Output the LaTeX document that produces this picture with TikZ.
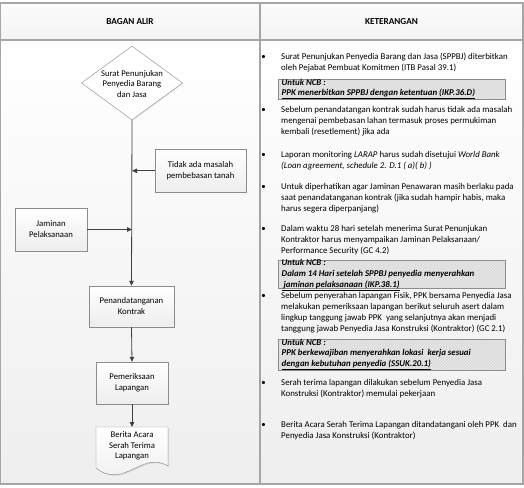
\documentclass[tikz,border=0pt]{standalone}
\usepackage{fontspec}
\setmainfont{Carlito}
\usetikzlibrary{arrows.meta,shapes.geometric,shadows,patterns}
\definecolor{frame}{HTML}{A6A6A6}
\definecolor{linec}{HTML}{404040}
\definecolor{boxb}{HTML}{8C8C8C}
\begin{document}
\begin{tikzpicture}[x=1pt,y=-1pt,
  txt/.style={font=\fontsize{8.85}{11}\selectfont, inner sep=0pt, align=left, anchor=base west},
  bul/.style={font=\fontsize{8.85}{11}\selectfont, inner sep=0pt, anchor=base},
  ncbtxt/.style={font=\fontsize{8.85}{10.6}\selectfont\bfseries\itshape, inner sep=0pt, align=left, anchor=base west},
  ncbbox/.style={draw=boxb, fill=gray!28},
  flowbox/.style={draw=boxb, top color=white, bottom color=gray!14, inner sep=0pt,
     font=\fontsize{8.7}{11}\selectfont, align=center,
     drop shadow={opacity=0.22, shadow xshift=1pt, shadow yshift=-1pt}},
  flow/.style={draw=linec, line width=0.8pt},
  tip/.style={-{Triangle[length=5pt,width=4.5pt]}}
]
\useasboundingbox (0,0) rectangle (524,487);
% backgrounds
\shade[top color=white, bottom color=gray!13] (0.5,40) rectangle (523,484);
\shade[top color=gray!3, bottom color=gray!9] (0.5,3) rectangle (523,40);
\draw[frame, line width=1.1pt] (0.5,3) rectangle (523,484);
\draw[frame, line width=1.1pt] (0.5,40) -- (523,40);
\draw[frame, line width=1.1pt] (260,3) -- (260,484);
% headers
\node[font=\fontsize{9.2}{11}\selectfont\bfseries] (h1) at (130,22) {BAGAN ALIR};
\node[font=\fontsize{9.2}{11}\selectfont\bfseries] (h2) at (391.5,22) {KETERANGAN};

% ---- flow chart ----
\node[diamond, draw=boxb, fill=white, minimum width=101pt, minimum height=74pt, inner sep=0pt,
  drop shadow={opacity=0.15, shadow xshift=1pt, shadow yshift=-1pt}] (d) at (132,83) {};
\node[font=\fontsize{8.7}{10.6}\selectfont, align=center, inner sep=0pt] (dt) at (132,84) {Surat Penunjukan\\Penyedia Barang\\dan Jasa};

\node[flowbox, minimum width=91pt, minimum height=43pt] (tb) at (200.5,170.8) {Tidak ada masalah\\pembebasan tanah};
\node[flowbox, minimum width=72pt, minimum height=43pt] (jm) at (51,229.5) {Jaminan\\Pelaksanaan};
\node[flowbox, minimum width=85pt, minimum height=41pt] (pk) at (131.5,306.5) {Penandatanganan\\Kontrak};
\node[flowbox, minimum width=72pt, minimum height=42pt] (pl) at (132,383) {Pemeriksaan\\Lapangan};

% document shape
\path[draw=boxb, top color=white, bottom color=gray!14,
  drop shadow={opacity=0.22, shadow xshift=1pt, shadow yshift=-1pt}]
  (96,427) -- (168,427) -- (168,466) .. controls (142,450) and (124,490) .. (96,468) -- cycle;
\node[font=\fontsize{8.7}{10.6}\selectfont, align=center, inner sep=0pt] (ba) at (132,446) {Berita Acara\\Serah Terima\\Lapangan};
\coordinate (batop) at (132,427);

\draw[flow, tip] (d.south) -- (pk.north);
\draw[flow, tip] (tb.west) -- (tb.west -| d.south);
\draw[flow, tip] (jm.east) -- (jm.east -| d.south);
\draw[flow, tip] (pk.south) -- (pl.north);
\draw[flow, tip] (pl.south) -- (batop);

% ---- keterangan (node anchors at the baseline of the last line) ----
\node[bul] (b1) at (263.5,59.5) {\textbullet};
\node[txt] (t1) at (281,70.5) {Surat Penunjukan Penyedia Barang dan Jasa (SPPBJ) diterbitkan\\oleh Pejabat Pembuat Komitmen (ITB Pasal 39.1)};

\draw[ncbbox] (278,79) rectangle (505,99);
\fill[pattern=north east lines, pattern color=white!85!gray] (278,79) rectangle (505,99);
\draw[boxb] (278,79) rectangle (505,99);
\node[ncbtxt] (n1) at (281.5,95.6) {Untuk NCB :\\\underline{PPK menerbitkan SPPBJ dengan ketentuan (IKP.36.D)}};

\node[bul] (b2) at (263.5,112) {\textbullet};
\node[txt] (t2) at (281,134) {Sebelum penandatangan kontrak sudah harus tidak ada masalah\\mengenai pembebasan lahan termasuk proses permukiman\\kembali (resetlement) jika ada};

\node[bul] (b3) at (263.5,157.5) {\textbullet};
\node[txt] (t3) at (281,168.5) {Laporan monitoring \textit{LARAP} harus sudah disetujui \textit{World Bank}\\\textit{(Loan agreement, schedule 2. D.1 ( a)( b) )}};

\node[bul] (b4) at (263.5,189) {\textbullet};
\node[txt] (t4) at (281,211) {Untuk diperhatikan agar Jaminan Penawaran masih berlaku pada\\saat penandatanganan kontrak (jika sudah hampir habis, maka\\harus segera diperpanjang)};

\node[bul] (b5) at (263.5,231.5) {\textbullet};
\node[txt] (t5) at (281,253.5) {Dalam waktu 28 hari setelah menerima Surat Penunjukan\\Kontraktor harus menyampaikan Jaminan Pelaksanaan/\\Performance Security (GC 4.2)};

\draw[ncbbox] (278,260) rectangle (505,288.5);
\fill[pattern=north east lines, pattern color=white!85!gray] (278,260) rectangle (505,288.5);
\draw[boxb] (278,260) rectangle (505,288.5);
\node[ncbtxt] (n2) at (281.5,287) {Untuk NCB :\\Dalam 14 Hari setelah SPPBJ penyedia menyerahkan\\\underline{\ jaminan pelaksanaan (IKP.38.1)}};

\node[bul] (b6) at (263.5,298.5) {\textbullet};
\node[txt] (t6) at (281,331.5) {Sebelum penyerahan lapangan Fisik, PPK bersama Penyedia Jasa\\melakukan pemeriksaan lapangan berikut seluruh asert dalam\\lingkup tanggung jawab PPK\ \ yang selanjutnya akan menjadi\\tanggung jawab Penyedia Jasa Konstruksi (Kontraktor) (GC 2.1)};

\draw[ncbbox] (278,339) rectangle (505,370);
\fill[pattern=north east lines, pattern color=white!85!gray] (278,339) rectangle (505,370);
\draw[boxb] (278,339) rectangle (505,370);
\node[ncbtxt] (n3) at (281.5,366.2) {Untuk NCB :\\PPK berkewajiban menyerahkan lokasi\ \ kerja sesuai\\\underline{dengan kebutuhan penyedia (SSUK.20.1)}};

\node[bul] (b7) at (263.5,385.5) {\textbullet};
\node[txt] (t7) at (281,396.5) {Serah terima lapangan dilakukan sebelum Penyedia Jasa\\Konstruksi (Kontraktor) memulai pekerjaan};

\node[bul] (b8) at (263.5,427) {\textbullet};
\node[txt] (t8) at (281,438) {Berita Acara Serah Terima Lapangan ditandatangani oleh PPK\ \ dan\\Penyedia Jasa Konstruksi (Kontraktor)};
\end{tikzpicture}
\end{document}
